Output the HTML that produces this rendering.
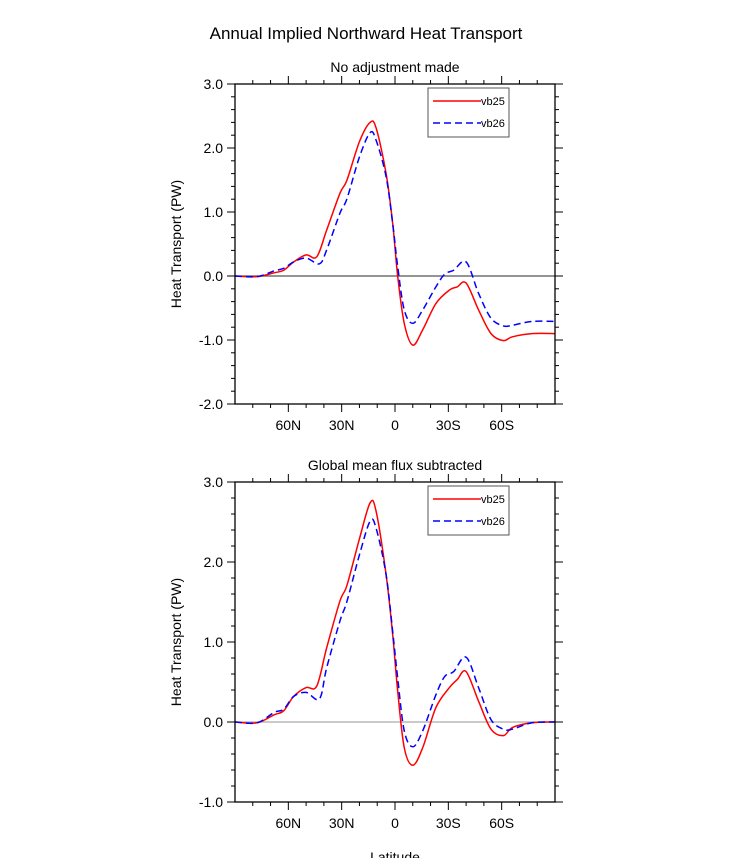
<!DOCTYPE html>
<html><head><meta charset="utf-8"><style>
body{margin:0;background:#fff}
svg text{font-family:"Liberation Sans",sans-serif;fill:#000}
</style></head><body>
<svg id="svg" width="733" height="858" viewBox="0 0 733 858" xmlns="http://www.w3.org/2000/svg">
<text x="366" y="39" font-size="17" text-anchor="middle">Annual Implied Northward Heat Transport</text>
<g id="p1"></g>
<g id="p2"></g>
</svg>
<script>
const lats = [90,77.6,68,62.6,57,50,44,38.4,31,27,20,14,10.6,5,1.3,-1.5,-5.2,-10,-15.6,-23,-30.6,-35,-40,-47,-54,-61,-66,-77,-90];
const p1vb25 = [0,-0.01,0.05,0.09,0.22,0.33,0.30,0.72,1.29,1.5,2.1,2.4,2.31,1.6,0.82,0,-0.74,-1.08,-0.84,-0.43,-0.22,-0.17,-0.11,-0.53,-0.9,-1.01,-0.95,-0.9,-0.9];
const lats26 = [90,77.6,68,62.6,57,50,42.5,38.4,31,27,20,14,10.6,5,1.3,-1.5,-5.2,-10,-15.6,-23,-28,-33,-40,-47,-54,-61,-66,-77,-90];
const p1vb26 = [0,-0.01,0.08,0.12,0.22,0.28,0.19,0.41,0.98,1.21,1.86,2.24,2.12,1.55,0.82,0.15,-0.53,-0.74,-0.53,-0.17,0.03,0.09,0.22,-0.27,-0.66,-0.78,-0.77,-0.71,-0.71];
const p2vb25 = [0,-0.01,0.09,0.14,0.32,0.43,0.45,0.93,1.51,1.71,2.29,2.74,2.63,1.84,1.09,0.39,-0.32,-0.54,-0.32,0.18,0.43,0.53,0.63,0.26,-0.09,-0.17,-0.07,-0.01,0];
const p2vb26 = [0,-0.01,0.12,0.16,0.32,0.37,0.29,0.68,1.26,1.51,2.09,2.51,2.42,1.84,1.13,0.55,-0.11,-0.31,-0.11,0.34,0.57,0.63,0.81,0.43,0.03,-0.09,-0.09,-0.01,0];
const xTickVals = [60,30,0,-30,-60];
const xTickLabels = ["60N","30N","0","30S","60S"];
const p1Ticks = [3,2,1,0,-1,-2];
const p2Ticks = [3,2,1,0,-1];
const NS="http://www.w3.org/2000/svg";
function mk(parent,tag,attrs,txt){const e=document.createElementNS(NS,tag);for(const k in attrs)e.setAttribute(k,attrs[k]);if(txt!==undefined)e.textContent=txt;parent.appendChild(e);return e;}
function smooth(pts){let d="M"+pts[0][0]+","+pts[0][1];for(let i=0;i<pts.length-1;i++){const p0=pts[Math.max(0,i-1)],p1=pts[i],p2=pts[i+1],p3=pts[Math.min(pts.length-1,i+2)];const c1=[p1[0]+(p2[0]-p0[0])/6,p1[1]+(p2[1]-p0[1])/6],c2=[p2[0]-(p3[0]-p1[0])/6,p2[1]-(p3[1]-p1[1])/6];d+=" C"+c1[0].toFixed(2)+","+c1[1].toFixed(2)+" "+c2[0].toFixed(2)+","+c2[1].toFixed(2)+" "+p2[0].toFixed(2)+","+p2[1].toFixed(2);}return d;}
function panel(g,cfg){
 const L=235,R=555,T=cfg.top,B=cfg.bot,ymax=cfg.ymax,ymin=cfg.ymin;
 const xs=lat=>L+(90-lat)/180*(R-L);
 const ys=v=>T+(ymax-v)/(ymax-ymin)*(B-T);
 let t=mk(g,"text",{x:(L+R)/2,y:T-12,"font-size":"14","text-anchor":"middle"},cfg.sub);
 
 
 for(let lat=80;lat>=-80;lat-=10){const x=xs(lat);const major=lat%30===0;const len=major?8:4;
  mk(g,"line",{x1:x,x2:x,y1:B,y2:B+len,stroke:"#000","stroke-width":1});
  mk(g,"line",{x1:x,x2:x,y1:T,y2:T-len,stroke:"#000","stroke-width":1});}
 for(let v=ymin;v<=ymax+1e-6;v+=0.2){const y=ys(v);const major=Math.abs(v-Math.round(v))<1e-6;const len=major?8:4;
  mk(g,"line",{x1:L-len,x2:L,y1:y,y2:y,stroke:"#000","stroke-width":1});
  mk(g,"line",{x1:R,x2:R+len,y1:y,y2:y,stroke:"#000","stroke-width":1});}
 xTickVals.forEach((v,i)=>{const e=mk(g,"text",{x:xs(v),y:B+26,"font-size":"14","text-anchor":"middle"},xTickLabels[i]);
  
  });
 cfg.ticks.forEach(v=>{const e=mk(g,"text",{x:L-12,y:ys(v)+5,"font-size":"14","text-anchor":"end"},v.toFixed(1));
  
  });
 const yt=mk(g,"text",{x:0,y:0,"font-size":"14","text-anchor":"middle",transform:`translate(181,${(T+B)/2}) rotate(-90)`},"Heat Transport (PW)");
 
 
 const z=mk(g,"line",{x1:L,x2:R,y1:ys(0),y2:ys(0),stroke:cfg.zc,"stroke-width":1.2});
 
 
 const a=mk(g,"path",{d:smooth(lats.map((l,i)=>[xs(l),ys(cfg.s1[i])])),fill:"none",stroke:"#f00","stroke-width":1.5});
 
 
 const b=mk(g,"path",{d:smooth(lats26.map((l,i)=>[xs(l),ys(cfg.s2[i])])),fill:"none",stroke:"#00f","stroke-width":1.5,"stroke-dasharray":"7,4"});
 
 
 const fr=mk(g,"rect",{x:L,y:T,width:R-L,height:B-T,fill:"none",stroke:"#000","stroke-width":1.3});
 
 
 const lg=mk(g,"g",{});
 
 
 const ly=cfg.top+4;
 mk(lg,"rect",{x:428,y:ly,width:81,height:49,fill:"#fff",stroke:"#555","stroke-width":1});
 mk(lg,"line",{x1:433,x2:481,y1:ly+13,y2:ly+13,stroke:"#f00","stroke-width":1.5});
 mk(lg,"line",{x1:433,x2:481,y1:ly+35,y2:ly+35,stroke:"#00f","stroke-width":1.5,"stroke-dasharray":"7,4"});
 const e1=mk(lg,"text",{x:481,y:ly+17,"font-size":"11"},"vb25");
 
 
 const e2=mk(lg,"text",{x:481,y:ly+39,"font-size":"11"},"vb26");
 
 
}
panel(document.getElementById("p1"),{top:84,bot:404,ymax:3,ymin:-2,ticks:p1Ticks,s1:p1vb25,s2:p1vb26,zc:"#555",sub:"No adjustment made"});
panel(document.getElementById("p2"),{top:482,bot:802,ymax:3,ymin:-1,ticks:p2Ticks,s1:p2vb25,s2:p2vb26,zc:"#aaa",sub:"Global mean flux subtracted"});
const xl=mk(document.getElementById("svg"),"text",{x:395,y:862,"font-size":"14","text-anchor":"middle"},"Latitude");


</script>
</body></html>
